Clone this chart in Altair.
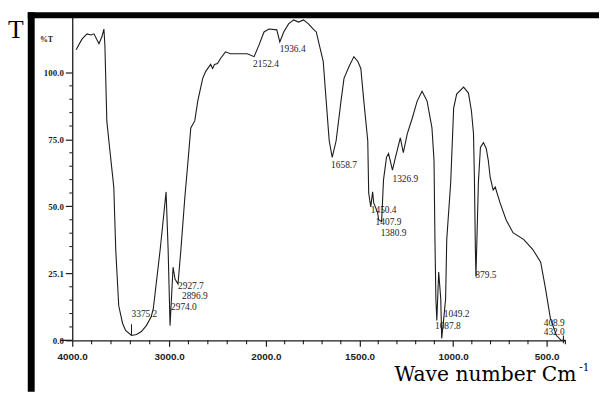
import altair as alt
import pandas as pd

# ---- spectrum (wavenumber cm-1, %T) ----
wavenumber = [3960, 3898, 3847, 3806, 3776, 3724, 3694, 3673, 3663, 3643, 3622, 3571, 3551, 3520,
              3480, 3449, 3388, 3337, 3286, 3235, 3184, 3163, 3092, 3031, 3010, 2990, 2959, 2939,
              2908, 2878, 2837, 2806, 2776, 2735, 2704, 2653, 2622, 2571, 2551, 2531, 2500, 2469,
              2418, 2367, 2194, 2122, 2071, 2020, 1984, 1942, 1926, 1905, 1879, 1852, 1826, 1799,
              1773, 1747, 1731, 1715, 1694, 1678, 1662, 1646, 1625, 1599, 1583, 1556, 1530, 1509,
              1493, 1477, 1456, 1451, 1440, 1430, 1424, 1403, 1398, 1382, 1372, 1356, 1345, 1324,
              1308, 1282, 1266, 1245, 1218, 1192, 1166, 1139, 1113, 1102, 1097, 1092, 1087, 1077,
              1066, 1061, 1050, 1040, 1034, 1013, 997, 981, 944, 918, 902, 891, 886, 881, 878, 870,
              865, 854, 838, 823, 812, 802, 786, 775, 749, 717, 680, 622, 574, 532, 506, 480, 448,
              422, 400]
transmittance = [108.5, 112.5, 114.4, 114.0, 114.4, 110.7, 113.3, 116.2, 110.3, 81.9, 74.5, 57.2, 33.9, 12.9,
                 6.3, 3.7, 1.8, 2.2, 3.3, 5.5, 8.9, 11.8, 33.9, 55.4, 33.9, 5.5, 27.3, 22.9,
                 21.0, 33.9, 53.5, 66.4, 79.3, 81.9, 89.3, 97.8, 100.4, 103.0, 101.5, 103.0, 103.3, 105.2,
                 107.7, 107.0, 107.0, 105.9, 110.3, 115.1, 116.2, 115.9, 111.4, 115.1, 118.1, 119.6, 118.8, 119.6,
                 118.1, 116.2, 115.1, 110.3, 104.1, 89.3, 74.5, 68.3, 74.5, 89.3, 97.8, 102.2, 105.9, 104.1,
                 101.5, 89.3, 74.5, 55.0, 49.8, 55.4, 51.3, 47.6, 45.0, 44.3, 59.8, 68.3, 69.7, 63.5,
                 68.3, 75.6, 70.1, 77.1, 83.0, 89.3, 93.0, 89.3, 79.3, 67.2, 37.6, 15.5, 7.4, 25.5,
                 15.5, 0.7, 8.1, 15.5, 37.6, 58.7, 86.7, 91.9, 94.5, 92.3, 85.6, 77.1, 59.8, 33.9, 24.0, 45.0,
                 58.7, 72.0, 73.8, 71.6, 67.2, 60.9, 56.1, 57.2, 51.3, 45.0, 40.2, 37.6, 33.9, 29.2, 19.2, 8.1, 1.8,
                 0.0, 0.0]

# ---- peak annotations ----
peak_labels = ["3375.2", "2927.7", "2896.9", "2974.0", "2152.4", "1936.4", "1658.7", "1326.9",
               "1450.4", "1407.9", "1380.9", "879.5", "1049.2", "1087.8", "408.9", "432.0"]
peak_wn = [3388, 2908, 2867, 2980, 2133, 1926, 1652, 1324, 1440, 1414, 1387, 881, 1050, 1097, 516, 516]
peak_t = [10.0, 20.3, 16.4, 12.6, 103.3, 108.9, 65.3, 60.1, 48.7, 44.3, 40.2, 24.4, 9.8, 5.3, 6.6, 3.0]

marker_wn = [3388]
marker_t1 = [2.0]
marker_t2 = [6.0]

# ---- axes ----
x_major = [4000, 3000, 2000, 1500, 1000, 500]
x_minor = [3800, 3600, 3400, 3200, 2800, 2600, 2400, 2200, 1900, 1800, 1700, 1600, 1400, 1300,
           1200, 1100, 900, 800, 700, 600, 400]
y_major = [0, 25.1, 50, 75, 100]
y_minor = [5, 10, 15, 20, 30, 35, 40, 45, 55, 60, 65, 70, 80, 85, 90, 95]

spec = pd.DataFrame({"wn": wavenumber, "t": transmittance, "i": list(range(len(wavenumber)))})
peaks = pd.DataFrame({"label": peak_labels, "wn": peak_wn, "t": peak_t})
markers = pd.DataFrame({"wn": marker_wn, "t": marker_t1, "t2": marker_t2})
xminor = pd.DataFrame({"wn": x_minor})
yminor = pd.DataFrame({"t": y_minor})
one = pd.DataFrame({"a": [0]})

W, H = 499, 328
INK = "#1c1c1c"

x_scale = alt.Scale(domain=[4000, 2000, 400], range=[0, 196, W], nice=False, zero=False)
y_scale = alt.Scale(domain=[0, 121], nice=False, zero=False)

x_axis = alt.Axis(values=x_major, format=".1f", title=None, grid=False,
                  labelFont="Liberation Sans", labelFontWeight="bold", labelFontSize=10,
                  labelColor=INK, tickSize=6, tickColor=INK, domainColor=INK,
                  domainWidth=1.3, tickWidth=1.2, labelPadding=5, labelFlush=False)
y_axis = alt.Axis(values=y_major, format=".1f", title=None, grid=False,
                  labelFont="Liberation Serif", labelFontWeight="bold", labelFontSize=9,
                  labelColor=INK, tickSize=7, tickColor=INK, domainColor=INK,
                  domainWidth=1.3, tickWidth=1.2, labelPadding=2)

X = alt.X("wn:Q", scale=x_scale, axis=x_axis)
Y = alt.Y("t:Q", scale=y_scale, axis=y_axis)

line = alt.Chart(spec).mark_line(color=INK, strokeWidth=1.1, clip=False).encode(
    x=X, y=Y, order="i:Q",
)

xminor_rules = alt.Chart(xminor).mark_rule(color=INK, strokeWidth=1.1).encode(
    x=X, y=alt.value(H), y2=alt.value(H + 4),
)
yminor_rules = alt.Chart(yminor).mark_rule(color=INK, strokeWidth=1.0).encode(
    y=Y, x=alt.value(-3), x2=alt.value(0),
)

labels = alt.Chart(peaks).mark_text(align="left", baseline="middle", font="Liberation Serif",
                                    fontSize=9.5, color=INK).encode(
    x=X, y=Y, text="label:N",
)

marker_rules = alt.Chart(markers).mark_rule(color=INK, strokeWidth=1.0).encode(
    x=X, y=Y, y2="t2:Q",
)

# frame bars and texts (pixel positions relative to the plot origin)
top_bar = alt.Chart(one).mark_rect(color="black").encode(
    x=alt.value(-45), x2=alt.value(534), y=alt.value(-4), y2=alt.value(2))
left_bar = alt.Chart(one).mark_rect(color="black").encode(
    x=alt.value(-45), x2=alt.value(-38), y=alt.value(-4), y2=alt.value(380))
axis_ext = alt.Chart(one).mark_rule(color=INK, strokeWidth=1.3).encode(
    x=alt.value(-12), x2=alt.value(0), y=alt.value(H))
end_ticks = alt.Chart(one).mark_rule(color=INK, strokeWidth=1.1).encode(
    x=alt.value(W - 2), y=alt.value(H - 5), y2=alt.value(H + 3))

t_text = alt.Chart(one).mark_text(text="T", align="left", baseline="alphabetic",
                                  font="Liberation Serif", fontSize=26, color="black").encode(
    x=alt.value(-65), y=alt.value(22))
pt_text = alt.Chart(one).mark_text(text="%T", align="center", baseline="middle",
                                   font="Liberation Serif", fontWeight="bold", fontSize=8,
                                   color=INK).encode(x=alt.value(-26), y=alt.value(24))
wave_text = alt.Chart(one).mark_text(text="Wave number Cm", align="left", baseline="alphabetic",
                                     font="DejaVu Serif", fontSize=20.5, color="black").encode(
    x=alt.value(326), y=alt.value(369))
sup_text = alt.Chart(one).mark_text(text="-1", align="left", baseline="alphabetic",
                                    font="DejaVu Serif", fontSize=10.5, color="black").encode(
    x=alt.value(513), y=alt.value(359))

chart = alt.layer(
    line, xminor_rules, yminor_rules, labels, marker_rules,
    top_bar, left_bar, axis_ext, end_ticks, t_text, pt_text, wave_text, sup_text,
).properties(
    width=W, height=H,
    autosize=alt.AutoSizeParams(type="none"),
    padding={"left": 65, "top": 6, "right": 34, "bottom": 50},
    background="white",
).configure_view(stroke=None)

chart.save("out.html", embed_options={"renderer": "svg", "actions": False})
